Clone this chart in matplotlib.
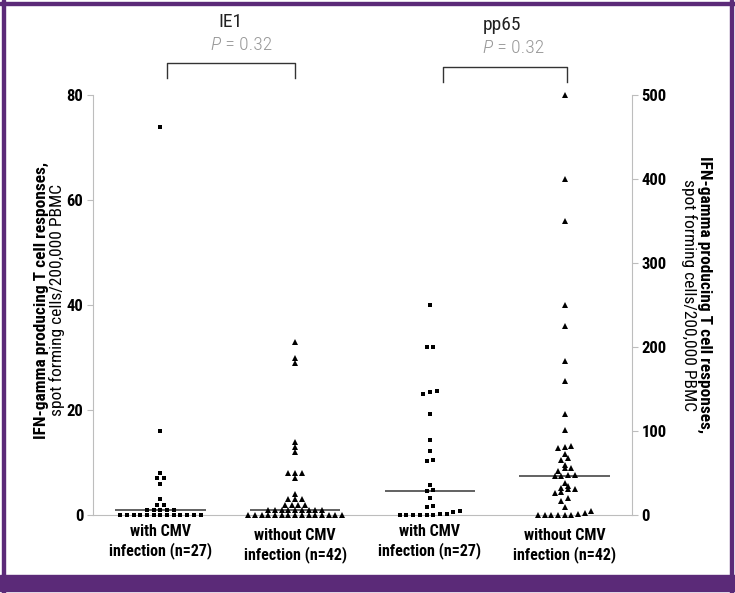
import matplotlib
matplotlib.use('Agg')
import matplotlib.pyplot as plt
import numpy as np
from matplotlib.patches import Rectangle
from matplotlib import font_manager
from matplotlib.font_manager import FontProperties
from matplotlib.transforms import blended_transform_factory

# ---------------- data ----------------
categories = ["with CMV\ninfection (n=27)", "without CMV\ninfection (n=42)",
              "with CMV\ninfection (n=27)", "without CMV\ninfection (n=42)"]
ie1_with = [74, 16, 8, 7, 7, 6, 3, 2, 2, 1, 1, 1, 1, 1] + [0] * 13
ie1_without = [33, 30, 29, 14, 13, 12, 8, 8, 8, 7, 4, 3, 3, 3, 2, 2, 2, 2] + [1] * 9 + [0] * 15
pp65_with = [250, 200, 200, 148, 146, 144, 120, 89, 76, 65, 64, 36, 30, 29, 20,
             11, 10, 5, 4, 1, 1, 0, 0, 0, 0, 0, 0]
pp65_without = [500, 400, 350, 250, 225, 183, 160, 120, 101, 82, 81, 80, 73, 68, 65,
                59, 56, 56, 52, 48, 48, 46, 46, 38, 35, 32, 31, 31, 27, 26, 20, 17,
                10, 5, 2, 1, 0, 0, 0, 0, 0, 0]
left_ticks = [0, 20, 40, 60, 80]
right_ticks = [0, 100, 200, 300, 400, 500]
antigens = ["IE1", "pp65"]
p_values = ["0.32", "0.32"]
ylabel_bold = 'IFN-gamma producing T cell responses,'
ylabel_reg = 'spot forming cells/200,000 PBMC'

# ---------------- fonts (prefer a condensed sans) ----------------
def _w(f):
    w = f.weight
    if isinstance(w, str):
        return {'bold': 700, 'normal': 400, 'regular': 400, 'light': 300,
                'semibold': 600, 'medium': 500, 'black': 900}.get(w, 400)
    return int(w)

ttfs = font_manager.fontManager.ttflist
def is_cond(f):
    return ('Narrow' in f.name or 'Condensed' in f.name or
            f.stretch in ('condensed', 'semi-condensed', 'extra-condensed'))

prefs = ['Liberation Sans Narrow', 'Arial Narrow', 'Roboto Condensed', 'Open Sans Condensed',
         'Noto Sans', 'Open Sans', 'DejaVu Sans', 'Roboto']
def pick(weight, italic=False):
    for p in prefs:
        best = None
        for f in ttfs:
            if not is_cond(f):
                continue
            if not (f.name == p or f.name.startswith(p)):
                continue
            if italic != (f.style in ('italic', 'oblique')):
                continue
            d = abs(_w(f) - weight)
            if best is None or d < best[0]:
                best = (d, f.fname)
        if best is not None and best[0] <= 100:
            return FontProperties(fname=best[1])
    return None

fp_bold = pick(700) or FontProperties(family='Liberation Sans', weight='bold')
fp_reg = pick(400) or FontProperties(family='Liberation Sans')
fp_light = pick(300) or fp_reg
fp_it = pick(300, italic=True) or pick(400, italic=True) or FontProperties(family='Liberation Sans', style='italic')

def fp(base, size):
    f = base.copy()
    f.set_size(size)
    return f

W, H = 735, 593
fig = plt.figure(figsize=(W / 100, H / 100), dpi=100)
ax = fig.add_axes([93 / W, 78 / H, (632 - 93) / W, 420 / H])
ax.set_xlim(0.5, 4.5)
ax.set_ylim(0, 80)
ax2 = ax.twinx()
ax2.set_ylim(0, 500)

grey = '#bdbdbd'
for s in ['top', 'right']:
    ax.spines[s].set_visible(False)
for s in ['top', 'left', 'bottom']:
    ax2.spines[s].set_visible(False)
ax.spines['left'].set_color(grey)
ax.spines['bottom'].set_color(grey)
ax2.spines['right'].set_color(grey)

ax.set_yticks(left_ticks)
ax2.set_yticks(right_ticks)
for a in (ax, ax2):
    a.tick_params(axis='y', direction='out', length=4, color=grey, pad=3)
    for lab in a.get_yticklabels():
        lab.set_fontproperties(fp(fp_bold, 12))
ax.set_xticks([])


def swarm_x(a, vals, xc, spacing_px=6.7, thresh_px=4.5):
    vals = np.asarray(vals, float)
    order = np.argsort(vals, kind='stable')
    ypx = a.transData.transform(np.column_stack([np.full(len(vals), xc), vals]))[:, 1]
    px_per_x = a.transData.transform([[1, 0]])[0, 0] - a.transData.transform([[0, 0]])[0, 0]
    rows, cur = [], []
    for i in order:
        if cur and ypx[i] - ypx[cur[0]] >= thresh_px:
            rows.append(cur)
            cur = []
        cur.append(i)
    rows.append(cur)
    xs = np.empty(len(vals))
    for r in rows:
        n = len(r)
        offs = (np.arange(n) - (n - 1) / 2) * spacing_px / px_per_x
        for j, i in enumerate(r):
            xs[i] = xc + offs[j]
    return xs


groups = [(ax, ie1_with, 's', 3.4), (ax, ie1_without, '^', 4.0),
          (ax2, pp65_with, 's', 3.4), (ax2, pp65_without, '^', 4.0)]
for k, (a, vals, mk, ms) in enumerate(groups):
    xc = k + 1
    xs = swarm_x(a, vals, xc)
    a.plot(xs, vals, linestyle='none', marker=mk, ms=ms, color='black',
           markeredgewidth=0, clip_on=False, zorder=3)
    a.hlines(np.median(vals), xc - 0.335, xc + 0.335, color='#555555', lw=1.3, zorder=2)

# x category labels
trx = blended_transform_factory(ax.transData, ax.transAxes)
for k, lab in enumerate(categories):
    dy = -0.022 if k % 2 == 0 else -0.030
    ax.text(k + 1, dy, lab, transform=trx, ha='center', va='top',
            fontproperties=fp(fp_bold, 11.5), linespacing=1.25)

# brackets and annotations
brackets = [(1.05, 2.0, 1.040, 1.076), (3.1, 4.02, 1.031, 1.067)]
text_x = [1.517, 3.535]
text_y = [(1.174, 1.119), (1.167, 1.112)]
for i, (x0, x1, yb, yt) in enumerate(brackets):
    ax.plot([x0, x0, x1, x1], [yb, yt, yt, yb], transform=trx, color='#333333',
            lw=1.0, clip_on=False)
    ax.text(text_x[i], text_y[i][0], antigens[i], transform=trx, ha='center',
            va='center', fontproperties=fp(fp_reg, 14), color='#222222')
    ax.text(text_x[i] - 0.07, text_y[i][1], 'P', transform=trx, ha='right',
            va='center', fontproperties=fp(fp_it, 14), color='#999999')
    ax.text(text_x[i] - 0.065, text_y[i][1], ' = ' + p_values[i], transform=trx, ha='left',
            va='center', fontproperties=fp(fp_light, 14), color='#999999')

# axis titles
fig.text(41 / W, 1 - 300 / H, ylabel_bold, rotation=90, ha='center', va='center',
         fontproperties=fp(fp_bold, 12.5))
fig.text(57 / W, 1 - 300 / H, ylabel_reg, rotation=90, ha='center', va='center',
         fontproperties=fp(fp_reg, 12.5))
fig.text(705 / W, 1 - 295 / H, ylabel_bold, rotation=-90, ha='center', va='center',
         fontproperties=fp(fp_bold, 12.5))
fig.text(689 / W, 1 - 295 / H, ylabel_reg, rotation=-90, ha='center', va='center',
         fontproperties=fp(fp_reg, 12.5))

# purple frame
purple = '#5b2a78'
fig.add_artist(Rectangle((2 / W, 0), 3 / W, 1, transform=fig.transFigure, color=purple, zorder=0))
fig.add_artist(Rectangle((730 / W, 0), 3 / W, 1, transform=fig.transFigure, color=purple, zorder=0))
fig.add_artist(Rectangle((0, 1 - 5 / H), 1, 3 / H, transform=fig.transFigure, color=purple, zorder=0))
fig.add_artist(Rectangle((0, 2 / H), 1, 16 / H, transform=fig.transFigure, color=purple, zorder=0))

fig.savefig('out.png', dpi=100)
